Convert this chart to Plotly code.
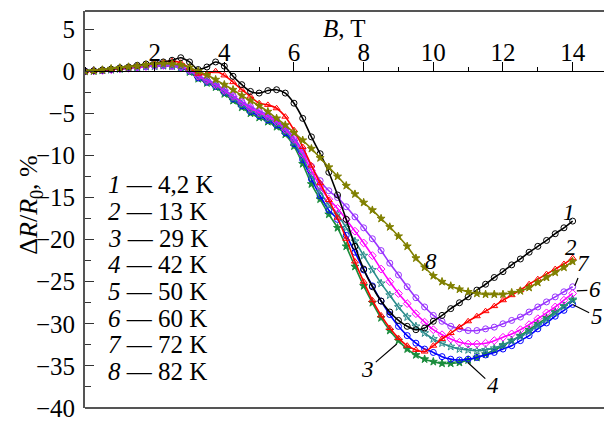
import plotly.graph_objects as go

# magnetic field grid, T
B = [i * 0.25 for i in range(57)]

# ΔR/R0, % for each temperature
R1 = [0, 0.05, 0.15, 0.25, 0.4, 0.5, 0.7, 0.85,
      1.0, 1.1, 1.3, 1.6, 1.1, 0.2, 0.5, 1.1,
      0.6, -0.6, -1.6, -2.4, -2.6, -2.3, -2.2, -2.6,
      -3.8, -5.6, -7.8, -9.8, -12.0, -14.7, -17.6, -20.8,
      -23.5, -25.6, -27.3, -28.6, -29.6, -30.3, -30.7, -30.5,
      -29.7, -29.0, -28.2, -27.5, -26.8, -26.0, -25.3, -24.5,
      -23.8, -23.0, -22.3, -21.5, -20.8, -20.1, -19.3, -18.6,
      -17.8]
R2 = [0, 0.05, 0.15, 0.25, 0.4, 0.5, 0.65, 0.8,
      0.95, 1.1, 1.2, 1.0, 0.4, -0.3, -0.3, 0.0,
      -0.5, -1.3, -2.2, -3.0, -3.8, -4.0, -4.4, -5.4,
      -7.0, -9.0, -11.2, -13.3, -15.3, -17.4, -19.9, -22.6,
      -25.0, -27.2, -29.0, -30.5, -31.7, -32.6, -33.1, -33.3,
      -32.6, -31.8, -31.1, -30.4, -29.7, -29.1, -28.5, -27.9,
      -27.2, -26.6, -26.0, -25.3, -24.7, -24.1, -23.5, -22.9,
      -22.2]
R3 = [0, 0.04, 0.1, 0.18, 0.28, 0.38, 0.48, 0.56,
      0.62, 0.66, 0.6, 0.45, -0.1, -0.9, -1.4, -1.9,
      -2.7, -3.5, -4.3, -5.0, -5.5, -6.0, -6.6, -7.5,
      -8.9, -11.0, -13.4, -15.2, -17.0, -18.6, -20.8, -23.2,
      -25.5, -27.5, -29.3, -30.8, -32.0, -33.0, -33.7, -34.2,
      -34.5, -34.7, -34.7, -34.6, -34.3, -34.0, -33.6, -33.1,
      -32.6, -32.0, -31.4, -30.7, -30.0, -29.3, -28.6, -27.9,
      -27.2]
R4 = [0, 0.04, 0.1, 0.18, 0.28, 0.38, 0.48, 0.56,
      0.62, 0.66, 0.6, 0.45, 0.0, -0.8, -1.3, -1.8,
      -2.5, -3.3, -4.1, -4.8, -5.3, -5.8, -6.4, -7.3,
      -8.6, -10.5, -12.8, -14.8, -16.5, -17.6, -19.5, -21.5,
      -23.6, -25.5, -27.3, -28.9, -30.3, -31.4, -32.3, -33.0,
      -33.4, -33.9, -34.2, -34.3, -34.2, -34.0, -33.7, -33.4,
      -33.0, -32.6, -32.0, -31.4, -30.6, -29.9, -29.1, -28.4,
      -27.7]
R5 = [0, 0.04, 0.1, 0.18, 0.28, 0.38, 0.48, 0.56,
      0.62, 0.66, 0.62, 0.48, 0.05, -0.7, -1.2, -1.7,
      -2.4, -3.2, -3.9, -4.6, -5.1, -5.6, -6.2, -7.1,
      -8.4, -10.2, -12.4, -14.3, -15.9, -17.0, -18.6, -20.2,
      -21.9, -23.6, -25.2, -26.6, -28.0, -29.2, -30.3, -31.1,
      -31.8, -32.3, -32.7, -33.0, -33.1, -33.2, -33.1, -32.9,
      -32.5, -32.0, -31.5, -30.9, -30.2, -29.5, -28.7, -27.9,
      -27.1]
R6 = [0, 0.04, 0.1, 0.18, 0.28, 0.38, 0.48, 0.56,
      0.63, 0.68, 0.64, 0.5, 0.1, -0.6, -1.1, -1.6,
      -2.3, -3.0, -3.7, -4.4, -4.9, -5.4, -6.0, -6.9,
      -8.1, -9.8, -11.8, -13.7, -15.2, -16.3, -17.6, -19.0,
      -20.4, -21.9, -23.5, -25.0, -26.4, -27.6, -28.8, -29.8,
      -30.7, -31.3, -31.8, -32.2, -32.4, -32.4, -32.3, -32.0,
      -31.6, -31.2, -30.7, -30.1, -29.4, -28.7, -28.0, -27.2,
      -26.4]
R7 = [0, 0.04, 0.1, 0.18, 0.28, 0.38, 0.48, 0.56,
      0.64, 0.7, 0.66, 0.52, 0.15, -0.5, -1.0, -1.5,
      -2.2, -2.9, -3.6, -4.2, -4.7, -5.2, -5.8, -6.7,
      -7.9, -9.4, -11.3, -13.0, -14.2, -15.0, -16.1, -17.3,
      -18.6, -19.9, -21.3, -22.8, -24.2, -25.6, -26.9, -28.0,
      -29.0, -29.7, -30.3, -30.6, -30.8, -30.8, -30.6, -30.4,
      -30.0, -29.6, -29.2, -28.6, -28.0, -27.4, -26.8, -26.2,
      -25.6]
R8 = [0, 0.05, 0.15, 0.3, 0.4, 0.5, 0.6, 0.75,
      0.85, 0.9, 0.85, 0.75, 0.45, 0.0, -0.45, -1.0,
      -1.6, -2.2, -2.9, -3.5, -4.1, -4.8, -5.6, -6.4,
      -7.3, -8.2, -9.2, -10.3, -11.4, -12.5, -13.6, -14.6,
      -15.6, -16.5, -17.5, -18.5, -19.6, -20.8, -22.2, -23.3,
      -24.3, -25.0, -25.5, -25.9, -26.2, -26.4, -26.5, -26.5,
      -26.5, -26.3, -26.1, -25.7, -25.1, -24.5, -23.9, -23.3,
      -22.6]

curve_ids = ["1", "2", "3", "4", "5", "6", "7", "8"]
temps = ["4,2 K", "13 K", "29 K", "42 K", "50 K", "60 K", "72 K", "82 K"]
series = [R1, R2, R3, R4, R5, R6, R7, R8]
colors = ["#000000", "#ff0000", "#1a8c3c", "#0000ff", "#2a8c8c", "#ff00ff", "#9933ff", "#808000"]
symbols = ["circle-open", "triangle-up-open", "star", "circle-open", "star-open",
           "diamond-open", "circle-open", "star"]

x_ticks = [2, 4, 6, 8, 10, 12, 14]
y_ticks = [-40, -35, -30, -25, -20, -15, -10, -5, 0, 5]
X_RANGE = [0, 14.9]
Y_RANGE = [-40, 7.15]

SERIF = "Liberation Serif"

fig = go.Figure()
order = [2, 3, 4, 5, 6, 1, 0, 7]
for i in order:
    fig.add_trace(go.Scatter(
        x=B, y=series[i], mode="lines+markers",
        line=dict(color=colors[i], width=1.6, shape="spline", smoothing=0.8),
        marker=dict(symbol=symbols[i], size=6, color=colors[i], line=dict(width=1, color=colors[i])),
        name=curve_ids[i], showlegend=False))

xpos = (0 - Y_RANGE[0]) / (Y_RANGE[1] - Y_RANGE[0])

fig.update_layout(
    width=606, height=424,
    margin=dict(l=85, r=2, t=11, b=11),
    plot_bgcolor="white", paper_bgcolor="white",
    font=dict(family=SERIF, size=24, color="black"),
    xaxis=dict(range=X_RANGE, anchor="free", position=xpos, side="top",
               tickvals=x_ticks, ticks="outside", ticklen=9, tickwidth=1, tickcolor="black",
               minor=dict(ticks="outside", ticklen=4, dtick=1, tick0=0, tickcolor="black"),
               showline=True, linecolor="black", linewidth=1.2,
               showgrid=False, zeroline=False, ticklabelstandoff=-9,
               tickfont=dict(family=SERIF, size=25, color="black")),
    yaxis=dict(range=Y_RANGE, domain=[0, 1],
               tickvals=y_ticks, ticks="inside", ticklen=9, tickwidth=1, tickcolor="#333",
               minor=dict(ticks="inside", ticklen=6, dtick=2.5, tick0=0, tickcolor="#333"),
               showline=True, linecolor="#555", linewidth=2,
               showgrid=False, zeroline=False, ticklabelstandoff=3,
               ticklabeloverflow="allow",
               tickfont=dict(family=SERIF, size=25, color="black")),
)

# frame (top and bottom)
fig.add_shape(type="line", xref="paper", yref="paper", x0=0, x1=1, y0=1, y1=1,
              line=dict(color="#555", width=2))
fig.add_shape(type="line", xref="paper", yref="paper", x0=0, x1=1, y0=0, y1=0,
              line=dict(color="#555", width=2))

ann = []
# axis titles
ann.append(dict(text="<i>B</i>, T", x=7.45, y=5.1, xref="x", yref="y", showarrow=False,
                font=dict(family=SERIF, size=25)))
ann.append(dict(text="Δ<i>R</i>/<i>R</i><sub>0</sub>, %", x=-0.106, y=0.512,
                xref="paper", yref="paper", textangle=-90, showarrow=False,
                xanchor="center", yanchor="middle", font=dict(family=SERIF, size=26)))
# legend text
for k in range(8):
    ann.append(dict(text="<i>%s</i> — %s" % (curve_ids[k], temps[k]),
                    x=0.04, y=(413 - (187 + 27 * k)) / 402, xref="paper", yref="paper",
                    xanchor="left", yanchor="middle", showarrow=False,
                    font=dict(family=SERIF, size=25)))
# curve labels with leader lines
leaders = [
    ("3", 8.95, -32.4, -29, 25),
    ("4", 10.99, -34.6, 25, 23),
    ("5", 14.0, -27.7, 24, 12),
    ("6", 14.12, -26.1, 18, -1),
    ("7", 14.06, -25.5, 9, -22),
]
for t, x, y, ax, ay in leaders:
    ann.append(dict(text="<i>%s</i>" % t, x=x, y=y, xref="x", yref="y", ax=ax, ay=ay,
                    showarrow=True, arrowhead=0, arrowwidth=1.2, arrowcolor="black",
                    font=dict(family=SERIF, size=23)))
plain = [("1", 13.9, -16.8), ("2", 13.95, -20.9), ("8", 9.93, -22.6)]
for t, x, y in plain:
    ann.append(dict(text="<i>%s</i>" % t, x=x, y=y, xref="x", yref="y", showarrow=False,
                    font=dict(family=SERIF, size=23)))
fig.update_layout(annotations=ann)

fig.write_html("out.html")
